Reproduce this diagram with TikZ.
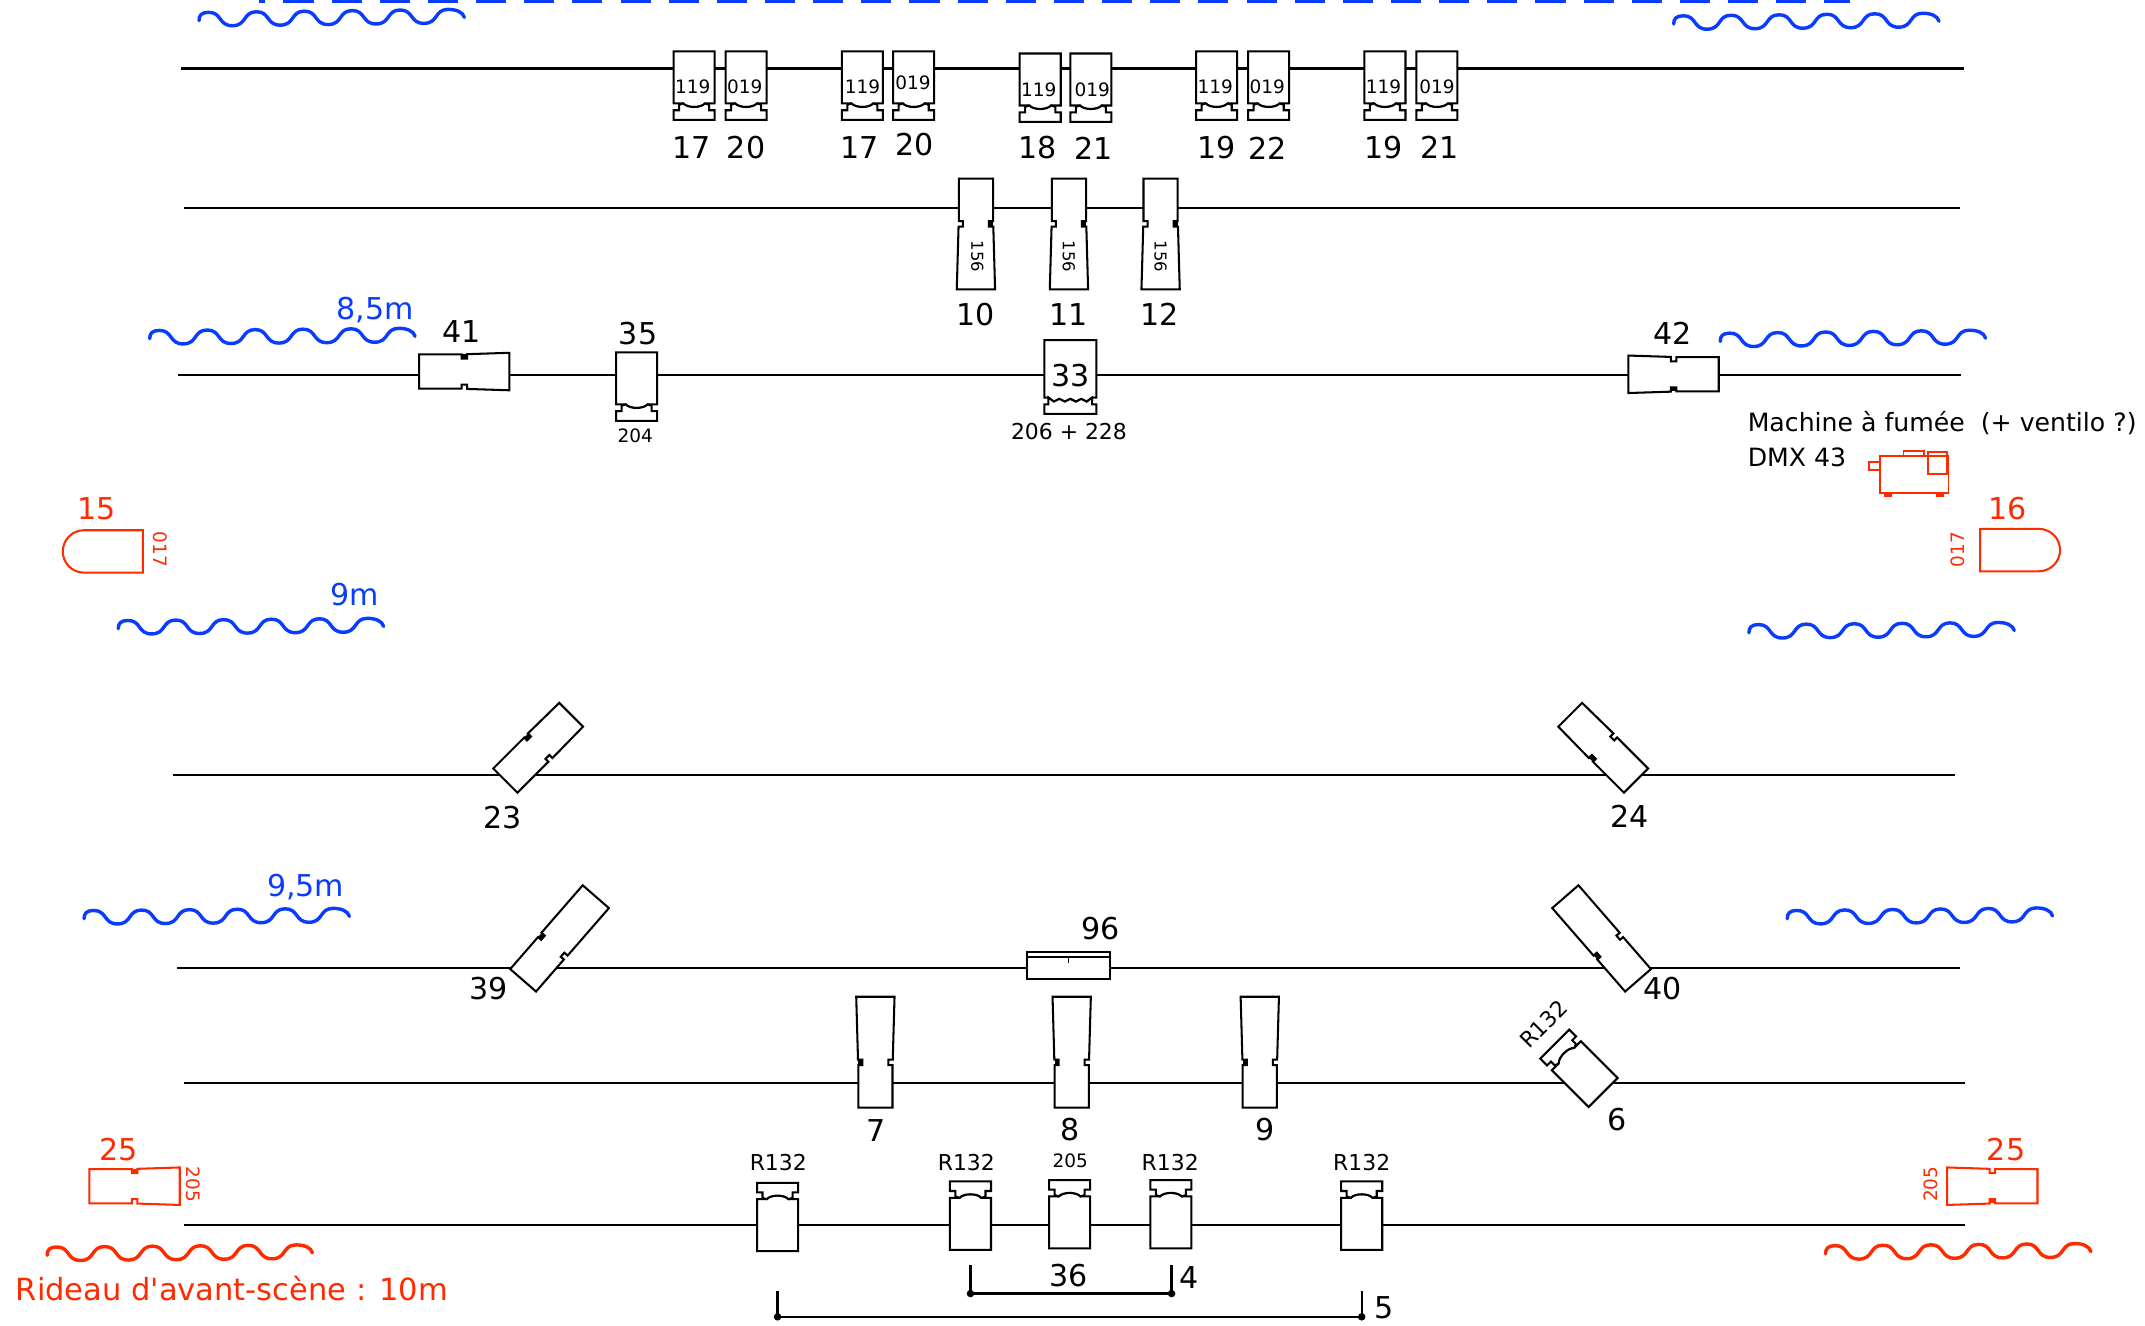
\documentclass[tikz,border=0pt]{standalone}
\usepackage{fontspec}
\setmainfont{DejaVu Sans}
\newfontfamily\plainfont{DejaVu Sans}
\definecolor{mblue}{HTML}{0A3CFF}
\definecolor{mred}{HTML}{FF2A00}
\begin{document}
\begin{tikzpicture}[x=1pt,y=-1pt,
   barline/.style={line width=1.6pt,black},
   fixline/.style={line width=1.5pt,fill=white,line join=miter},
   wavepath/.style={line width=2.5pt,line cap=round},
   bignum/.style={inner sep=0pt,font=\fontsize{22}{26}\selectfont},
   smallnum/.style={inner sep=0pt,font=\fontsize{13.5}{16}\selectfont},
   lampnum/.style={inner sep=0pt,font=\fontsize{16}{19}\selectfont},
   gelnum/.style={inner sep=0pt,font=\fontsize{12}{14}\selectfont},
   txtlabel/.style={inner sep=0pt,anchor=west,font=\fontsize{18.4}{22}\selectfont},
   dimdot/.style={circle,fill=black,inner sep=0pt,minimum size=5.5pt},
   pics/fixpc/.style={code={
     \draw[fixline] (-15,0) -- (15,0) -- (15,38) -- (8,38) .. controls (5,41.5) and (-5,41.5) .. (-8,38) -- (-15,38) -- cycle;
     \draw[fixline] (-8,38) .. controls (-5,41.5) and (5,41.5) .. (8,38) -- (11,39) -- (11,43) -- (15,43) -- (15,50) -- (-15,50) -- (-15,43) -- (-11,43) -- (-11,39) -- cycle;
   }},
   pics/fixzig/.style={code={
     \draw[fixline] (-19,0) -- (19,0) -- (19,42) -- (16,42) -- (12,45) -- (8,43) -- (4,45) -- (0,43) -- (-4,45) -- (-8,43) -- (-12,45) -- (-16,42) -- (-19,42) -- cycle;
     \draw[fixline] (-16,42) -- (-12,45) -- (-8,43) -- (-4,45) -- (0,43) -- (4,45) -- (8,43) -- (12,45) -- (16,42) -- (16,47) -- (19,47) -- (19,54) -- (-19,54) -- (-19,47) -- (-16,47) -- cycle;
   }},
   pics/fixprof/.style n args={3}{code={
     \draw[fixline] (-12.5,0) -- (12.5,0) -- (12.5,{#2-2}) -- (9.5,{#2-2}) -- (9.5,{#2+2}) -- (12.7,{#2+2}) -- (#3,#1) -- (-#3,#1) -- (-12.7,{#2+2}) -- (-9.5,{#2+2}) -- (-9.5,{#2-2}) -- (-12.5,{#2-2}) -- cycle;
     \fill (9.5,{#2-2}) rectangle (12.5,{#2+2});
   }},
   pics/fixround/.style={code={
     \draw[fixline] (0,0) -- (43,0) arc[start angle=-90,end angle=90,radius=15.5] -- (0,31) -- cycle;
   }},
   pics/wave/.style={code={
     \draw[wavepath] (0,6) .. controls (0,2) and (2,0) .. (7,0)
      foreach \k in {0,...,4}{ .. controls ({17+35*\k},0) and ({14+35*\k},10) .. ({24.5+35*\k},10) .. controls ({35+35*\k},10) and ({32+35*\k},0) .. ({42+35*\k},0)}
      .. controls (188,0) and (193,2) .. (194,6);
   }}]
 \useasboundingbox (-.4,-.6) rectangle (1567.6,968.7);
 \coordinate (dashw) at (189,0);
 \coordinate (dashe) at (1352,0);
 \draw[mblue,line width=2.6pt,dash pattern=on 22pt off 13.2pt,dash phase=17.4pt] (dashw) -- (dashe);
 \foreach \xa/\xb/\yb [count=\i] in {132/1435/49.5,134/1432/151.5,130/1433/273.5,126/1429/566,129/1432/707,134/1436/791,134/1436/895}
 {\coordinate (barw\i) at (\xa,\yb);
  \coordinate (bare\i) at (\xb,\yb);
  \draw[barline] (barw\i) -- (bare\i);
 }
 \foreach \x/\y/\ang in {145/8.5/.7,1223/11/.6,109/241/.5,1257/243/.7,86/453/.5,1278/456/.5,61/665/.5,1306/665/.6}
 {\path (\x,\y) pic[color=mblue,rotate=\ang] {wave};}
 \foreach \x/\y in {34/911,1334/910}
 {\path (\x,\y) pic[color=mred,rotate=.5] {wave};}
 \foreach \x/\y in {507/37,545/37,630/37,667.5/37,760/38.5,797/38.5,889/37,927/37,1012/37,1050/37,465/257}
 {\path (\x,\y) pic {fixpc};}
 \foreach \x/\y in {568/914,709/913,781.5/912,855.5/912,995/913}
 {\path (\x,\y) pic[rotate=180] {fixpc};}
 \path (1171.5,798) pic[rotate=-135] {fixpc};
 \path (782,248) pic {fixzig};
 \foreach \x in {713,781,848}
 {\path (\x,130) pic {fixprof={81}{33}{14}};}
 \foreach \x in {639.5,783,920.5}
 {\path (\x,809) pic[rotate=180] {fixprof={81}{33}{14}};}
 \path (306,271) pic[rotate=90] {fixprof={66}{33}{13.7}};
 \path (1256,273) pic[rotate=-90] {fixprof={66}{33}{13.7}};
 \path (369,570) pic[rotate=135] {fixprof={68}{34}{12.3}};
 \path (1195.5,570) pic[rotate=-135] {fixprof={68}{34}{12.3}};
 \path (382,716) pic[rotate=139] {fixprof={81}{33}{12.7}};
 \path (1197,716) pic[rotate=-139] {fixprof={81}{33}{12.7}};
 \path (65,866.5) pic[color=mred,rotate=90] {fixprof={66}{33}{13.7}};
 \path (1489,866.5) pic[color=mred,rotate=-90] {fixprof={66}{33}{13.7}};
 \path (104,387) pic[color=mred,xscale=-1] {fixround};
 \path (1447,386) pic[color=mred] {fixround};
 \draw[fixline] (750,695) rectangle (811,715);
 \draw[line width=1.5pt] (750,699) -- (811,699);
 \draw[line width=.8pt] (780.5,699) -- (780.5,703);
 \begin{scope}[mred,line width=1.3pt]
  \draw (1374,333) rectangle (1424,360);
  \draw (1366,337) rectangle (1374,343);
  \draw (1391,329) rectangle (1406,333);
  \draw (1409,330) rectangle (1423,346);
  \fill (1377,360) rectangle (1383,362.5);
  \fill (1415,360) rectangle (1421,362.5);
 \end{scope}
 \foreach \x/\y/\lbl [count=\i] in {505/107/17,545/107/20,628/107/17,668/105/20,758/107/18,799/108/21,889/107/19,926/108/22,1011/107/19,1052/107/21,713/229/10,781/229/11,847/229/12,337/242/41,466/243/35,782/274/33,1222/243/42,367/597/23,1191/596/24,357/722/39,1215/722/40,804/678/96,640/826/7,782/825/8,924/825/9,1182/818/6,781/932/36,869/933/4,1011/955/5}
 {\node[bignum] (num\i) at (\x,\y) {\lbl};}
 \foreach \x/\y/\lbl [count=\i] in {506/63/119,544/63/019,630/63/119,667/60/019,759/65/119,798/65/019,888/63/119,926/63/019,1011/63/119,1050/63/019,464/318/204,782/848/205}
 {\node[smallnum] (gel\i) at (\x,\y) {\lbl};}
 \foreach \x/\y [count=\i] in {568.5/849,706/849,855/849,995/849}
 {\node[lampnum] (lamp\i) at (\x,\y) {R132};}
 \foreach \x in {714,781,848}
 {\node[gelnum,rotate=-90] (gobo\x) at (\x,187) {156};}
 \node[lampnum] (gel33) at (781,315) {206 + 228};
 \node[lampnum,rotate=45] (lamp6) at (1128,748) {R132};
 \node[bignum,mblue] (lev85) at (274,226) {8,5m};
 \node[bignum,mblue] (lev9) at (259,434) {9m};
 \node[bignum,mblue] (lev95) at (223,648) {9,5m};
 \node[bignum,mred] (num15) at (70,371) {15};
 \node[bignum,mred] (num16) at (1467,371) {16};
 \node[bignum,mred] (numl25) at (86,840) {25};
 \node[bignum,mred] (numr25) at (1466,840) {25};
 \node[smallnum,mred,rotate=-90] (gel15) at (117,401) {017};
 \node[smallnum,mred,rotate=90] (gel16) at (1431,401) {017};
 \node[smallnum,mred,rotate=-90] (gell25) at (141,865) {205};
 \node[smallnum,mred,rotate=90] (gelr25) at (1411,865) {205};
 \node[txtlabel] (smoke) at (1277,309) {Machine à fumée\ \ (+ ventilo ?)};
 \node[txtlabel] (dmx) at (1277,334) {DMX 43};
 \node[txtlabel,mred,font=\plainfont\fontsize{22.3}{26}\selectfont] (curtain) at (11,941) {Rideau d'avant-scène : 10m};
 \node[dimdot] (bk4w) at (709,945) {};
 \node[dimdot] (bk4e) at (856,945) {};
 \node[dimdot] (bk5w) at (568,962) {};
 \node[dimdot] (bk5e) at (995,962) {};
 \coordinate (up4w) at (709,924);
 \coordinate (up4e) at (856,924);
 \coordinate (up5w) at (568,943);
 \coordinate (up5e) at (995,943);
 \draw[barline] (up4w) -- (bk4w.center) -- (bk4e.center) -- (up4e);
 \draw[barline] (up5w) -- (bk5w.center) -- (bk5e.center) -- (up5e);
\end{tikzpicture}
\end{document}
